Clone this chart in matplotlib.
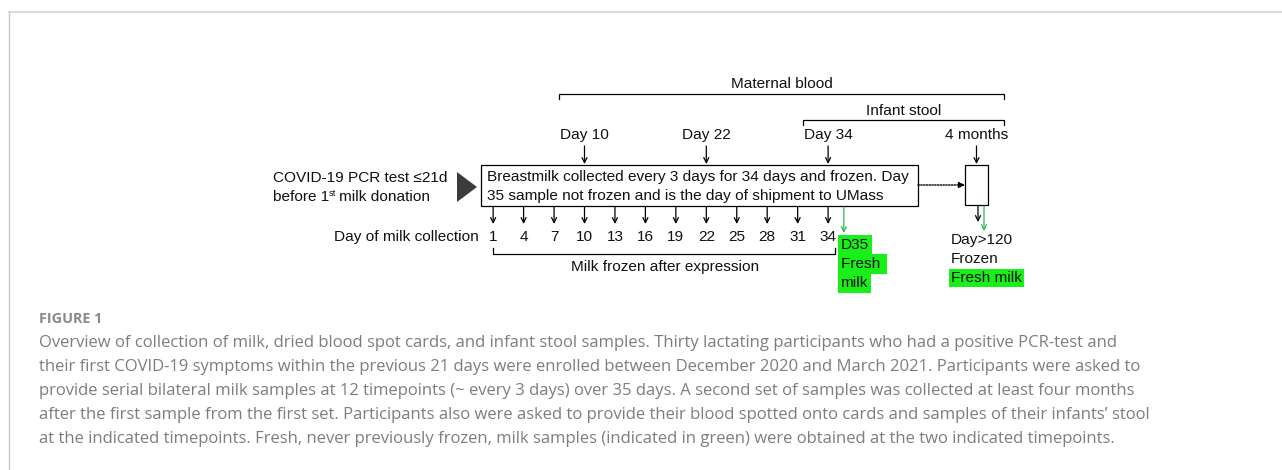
import matplotlib
matplotlib.use("Agg")
import matplotlib.pyplot as plt
from matplotlib.patches import Rectangle, Polygon

# ---------------- data ----------------
milk_days = [1, 4, 7, 10, 13, 16, 19, 22, 25, 28, 31, 34]
blood_days = [10, 22, 34]
blood_labels = ["Day 10", "Day 22", "Day 34"]
fresh_day = 35
followup_label = "4 months"
followup_texts = ["Day>120", "Frozen", "Fresh milk"]
fresh_texts = ["D35", "Fresh ", "milk"]
box_lines = ["Breastmilk collected every 3 days for 34 days and frozen. Day",
             "35 sample not frozen and is the day of shipment to UMass"]
caption_title = "FIGURE 1"
caption_lines = [
    "Overview of collection of milk, dried blood spot cards, and infant stool samples. Thirty lactating participants who had a positive PCR-test and",
    "their first COVID-19 symptoms within the previous 21 days were enrolled between December 2020 and March 2021. Participants were asked to",
    "provide serial bilateral milk samples at 12 timepoints (~ every 3 days) over 35 days. A second set of samples was collected at least four months",
    "after the first sample from the first set. Participants also were asked to provide their blood spotted onto cards and samples of their infants\u2019 stool",
    "at the indicated timepoints. Fresh, never previously frozen, milk samples (indicated in green) were obtained at the two indicated timepoints.",
]

# ---------------- layout (x axis in days) ----------------
W, H = 1282, 470
PX0, PXD = 483.0, 10.15          # pixel of day 0, pixels per day


def X(px):
    """convert a layout pixel column to day units"""
    return (px - PX0) / PXD


fig = plt.figure(figsize=(W / 100, H / 100), dpi=100)
ax = fig.add_axes([0, 0, 1, 1])
ax.set_xlim(X(0), X(W))
ax.set_ylim(H, 0)
ax.axis("off")

FONT = "Liberation Sans"
FS = 11.1
BLACK = "#111111"
GREEN_ARROW = "#2eb84f"
GREEN_BG = "#19f019"


def arrow(x, y0, y1, color="black"):
    ax.annotate("", xy=(x, y1), xytext=(x, y0),
                arrowprops=dict(arrowstyle="->", lw=0.9, color=color,
                                shrinkA=0, shrinkB=0, mutation_scale=9))


def bracket(x0, x1, y, tick, label=None, ly=None):
    ax.plot([x0, x0, x1, x1], [y + tick, y, y, y + tick], color="black", lw=0.9,
            solid_joinstyle="miter")
    if label:
        ax.text((x0 + x1) / 2, ly, label, ha="center", va="center",
                family=FONT, fontsize=FS, color=BLACK)


# outer frame lines of the page
ax.plot([X(9), X(W)], [12, 12], color="#dcdcdc", lw=1.6)
ax.plot([X(9), X(9)], [12, H], color="#c9c9c9", lw=1.0)

# top brackets
bracket(X(559), X(1004), 94, 5, "Maternal blood", 84)
bracket(X(803), X(1004), 120, 5, "Infant stool", 111)

# day labels above the box
for d, lab in zip(blood_days, blood_labels):
    ax.text(d, 135, lab, ha="center", va="center", family=FONT, fontsize=FS, color=BLACK)
    arrow(d, 146, 164)

# 4 month box
fx0, fx1 = X(965), X(988)
fxc = (fx0 + fx1) / 2
ax.text(fxc, 135, followup_label, ha="center", va="center", family=FONT, fontsize=FS, color=BLACK)
arrow(fxc, 146, 164)
ax.add_patch(Rectangle((fx0, 165), fx1 - fx0, 40, fill=False, lw=0.9, ec="black"))

# main box
bx0, bx1 = X(481), X(918)
ax.add_patch(Rectangle((bx0, 165), bx1 - bx0, 41, fill=False, lw=0.9, ec="black"))
ax.text(X(487), 177, box_lines[0], ha="left", va="center", family=FONT, fontsize=FS, color=BLACK)
ax.text(X(487), 196, box_lines[1], ha="left", va="center", family=FONT, fontsize=FS, color=BLACK)

# dotted arrow to follow-up box
ax.annotate("", xy=(fx0, 185), xytext=(bx1, 185),
            arrowprops=dict(arrowstyle="-|>", lw=1.0, ls=(0, (1, 1)), color="black",
                            shrinkA=0, shrinkB=0, mutation_scale=9))

# triangle and left text
ax.add_patch(Polygon([(X(457), 172), (X(457), 202), (X(477), 187)], closed=True,
                     fc="#3c3c3c", ec="none"))
ax.text(X(273), 178, "COVID-19 PCR test \u226421d", ha="left", va="center",
        family=FONT, fontsize=FS, color=BLACK)
ax.text(X(273), 197, "before 1", ha="left", va="center",
        family=FONT, fontsize=FS, color=BLACK)
ax.text(X(329), 193, "st", ha="left", va="center", family=FONT, fontsize=FS * 0.6, color=BLACK)
ax.text(X(339), 197, "milk donation", ha="left", va="center",
        family=FONT, fontsize=FS, color=BLACK)

# milk collection days
ax.text(X(479), 237, "Day of milk collection", ha="right", va="center",
        family=FONT, fontsize=FS, color=BLACK)
for d in milk_days:
    arrow(d, 207, 224)
    ax.text(d, 237, str(d), ha="center", va="center", family=FONT, fontsize=FS, color=BLACK)

# milk frozen bracket
ax.plot([milk_days[0], milk_days[0], X(835), X(835)], [248, 254, 254, 248], color="black", lw=0.9)
ax.text(X(665), 267, "Milk frozen after expression", ha="center", va="center",
        family=FONT, fontsize=FS, color=BLACK)

# fresh day 35
fdx = fresh_day + 0.55
arrow(fdx, 207, 233, color=GREEN_ARROW)
for i, t in enumerate(fresh_texts):
    ax.text(X(841), 245 + i * 19, t, ha="left", va="center", family=FONT, fontsize=FS,
            color=BLACK, bbox=dict(boxstyle="square,pad=0.17", fc=GREEN_BG, ec="none"))

# follow-up outputs
arrow(X(978), 206, 222)
arrow(X(984), 206, 231, color=GREEN_ARROW)
ax.text(X(951), 240, followup_texts[0], ha="left", va="center", family=FONT, fontsize=FS, color=BLACK)
ax.text(X(951), 259, followup_texts[1], ha="left", va="center", family=FONT, fontsize=FS, color=BLACK)
ax.text(X(951), 278, followup_texts[2], ha="left", va="center", family=FONT, fontsize=FS,
        color=BLACK, bbox=dict(boxstyle="square,pad=0.14", fc=GREEN_BG, ec="none"))

# caption
CAP = "#7d7d7d"
ax.text(X(39), 319, caption_title, ha="left", va="center", family="Open Sans",
        fontsize=10.4, fontweight="bold", color="#8a8a8a")
for i, line in enumerate(caption_lines):
    ax.text(X(39), 343 + i * 24, line, ha="left", va="center", family="Open Sans",
            fontsize=12.0, color=CAP)

fig.savefig("out.png", dpi=100, facecolor="white")
